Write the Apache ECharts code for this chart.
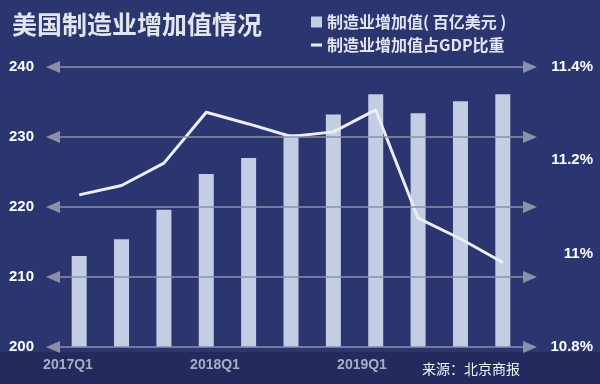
<!DOCTYPE html>
<html>
<head>
<meta charset="utf-8">
<script src="https://cdn.jsdelivr.net/npm/echarts@6/dist/echarts.min.js"></script>
<style>html,body{margin:0;padding:0;background:#2b3570;}#c{width:600px;height:384px;}</style>
</head>
<body>
<div id="c"></div>
<script>
var quarters = ['2017Q1','2017Q2','2017Q3','2017Q4','2018Q1','2018Q2','2018Q3','2018Q4','2019Q1','2019Q2','2019Q3'];
var valueAdded = [213.0, 215.4, 219.6, 224.7, 227.0, 230.4, 233.2, 236.1, 233.4, 235.1, 236.1];
var gdpShare = [11.126, 11.146, 11.194, 11.303, 11.278, 11.251, 11.261, 11.308, 11.076, 11.032, 10.981];
var xTickLabels = ['2017Q1','2018Q1','2019Q1'];
var leftTicks = [200, 210, 220, 230, 240];
var barName = '制造业增加值( 百亿美元 )';
var lineName = '制造业增加值占GDP比重';
var titleText = '美国制造业增加值情况';
var sourceText = '来源：北京商报';

var FONT = '"Noto Sans CJK SC", "Liberation Sans", sans-serif';
var chart = echarts.init(document.getElementById('c'), null, {renderer: 'canvas'});
var option = {
  backgroundColor: '#2b3570',
  animation: false,
  title: [
    {text: titleText, left: 7, top: 7, textStyle: {color: '#e3e5ee', fontSize: 25, fontWeight: 'bold', fontFamily: FONT}},
    {text: sourceText, left: 417, top: 357, textStyle: {color: '#f2f3f8', fontSize: 14, fontWeight: 'normal', fontFamily: FONT}}
  ],
  graphic: [
    {type: 'rect', z: -1, shape: {x: 0, y: 352, width: 600, height: 32}, style: {fill: '#232a5e'}}
  ],
  legend: [
    {data: [{name: barName, icon: 'rect'}], orient: 'vertical', left: 306, top: 9, itemWidth: 11, itemHeight: 11,
     textStyle: {color: '#e2e5ef', fontSize: 16, fontWeight: 'bold', fontFamily: FONT, padding: [0,0,0,0]}, selectedMode: false},
    {data: [{name: lineName, icon: 'rect'}], orient: 'vertical', left: 306, top: 32, itemWidth: 11, itemHeight: 3,
     padding: [5, 5, 5, 5],
     textStyle: {color: '#e2e5ef', fontSize: 16, fontWeight: 'bold', fontFamily: FONT, padding: [0,0,9,0]}, selectedMode: false}
  ],
  grid: [
    {left: 58, right: 76, top: 67, bottom: 37},
    {left: 53, right: 70, top: 67, bottom: 37},
    {left: 68, right: 238, top: 67, bottom: 37}
  ],
  xAxis: [
    {type: 'category', gridIndex: 0, data: quarters, axisLine: {show: false}, axisTick: {show: false}, axisLabel: {show: false}, splitLine: {show: false}},
    {type: 'value', gridIndex: 1, show: false, min: 0, max: 1},
    {type: 'category', gridIndex: 2, data: xTickLabels, boundaryGap: false, axisLine: {show: false}, axisTick: {show: false},
     axisLabel: {color: '#a9adc8', fontSize: 14, fontWeight: 'bold', fontFamily: '"Liberation Sans", Arial, sans-serif', margin: 11}, splitLine: {show: false}}
  ],
  yAxis: [
    {type: 'value', gridIndex: 0, min: 200, max: 240, interval: 10, axisLine: {show: false}, axisTick: {show: false}, splitLine: {show: false},
     axisLabel: {color: '#ffffff', fontSize: 15, fontWeight: 'bold', fontFamily: '"Liberation Sans", Arial, sans-serif', margin: 24}},
    {type: 'value', gridIndex: 0, position: 'right', min: 10.8, max: 11.4, interval: 0.2, axisLine: {show: false}, axisTick: {show: false}, splitLine: {show: false},
     axisLabel: {color: '#ffffff', fontSize: 15, fontWeight: 'bold', fontFamily: '"Liberation Sans", Arial, sans-serif', margin: 69, align: 'right',
       formatter: function (v) { return parseFloat(v.toFixed(1)) + '%'; }}},
    {type: 'value', gridIndex: 1, show: false, min: 200, max: 240, interval: 10},
    {type: 'value', gridIndex: 2, show: false, min: 0, max: 1}
  ],
  series: [
    {type: 'line', xAxisIndex: 1, yAxisIndex: 2, data: [], silent: true, z: 1,
     markLine: {silent: true, symbol: ['triangle', 'triangle'], symbolSize: [12, 14], animation: false,
       lineStyle: {color: '#8d91a8', width: 1.5, type: 'solid'}, itemStyle: {color: '#9a9eb2'}, label: {show: false}, emphasis: {disabled: true},
       data: leftTicks.map(function (t) { return {yAxis: t}; })}},
    {name: barName, type: 'bar', xAxisIndex: 0, yAxisIndex: 0, data: valueAdded, barWidth: 15, z: 2,
     itemStyle: {color: '#c3cde3'}, emphasis: {disabled: true}},
    {name: lineName, type: 'line', xAxisIndex: 0, yAxisIndex: 1, data: gdpShare, symbol: 'none', z: 3,
     lineStyle: {color: '#eceef5', width: 3}, itemStyle: {color: '#eceef5'}, emphasis: {disabled: true}}
  ]
};
chart.setOption(option);
</script>
</body>
</html>
